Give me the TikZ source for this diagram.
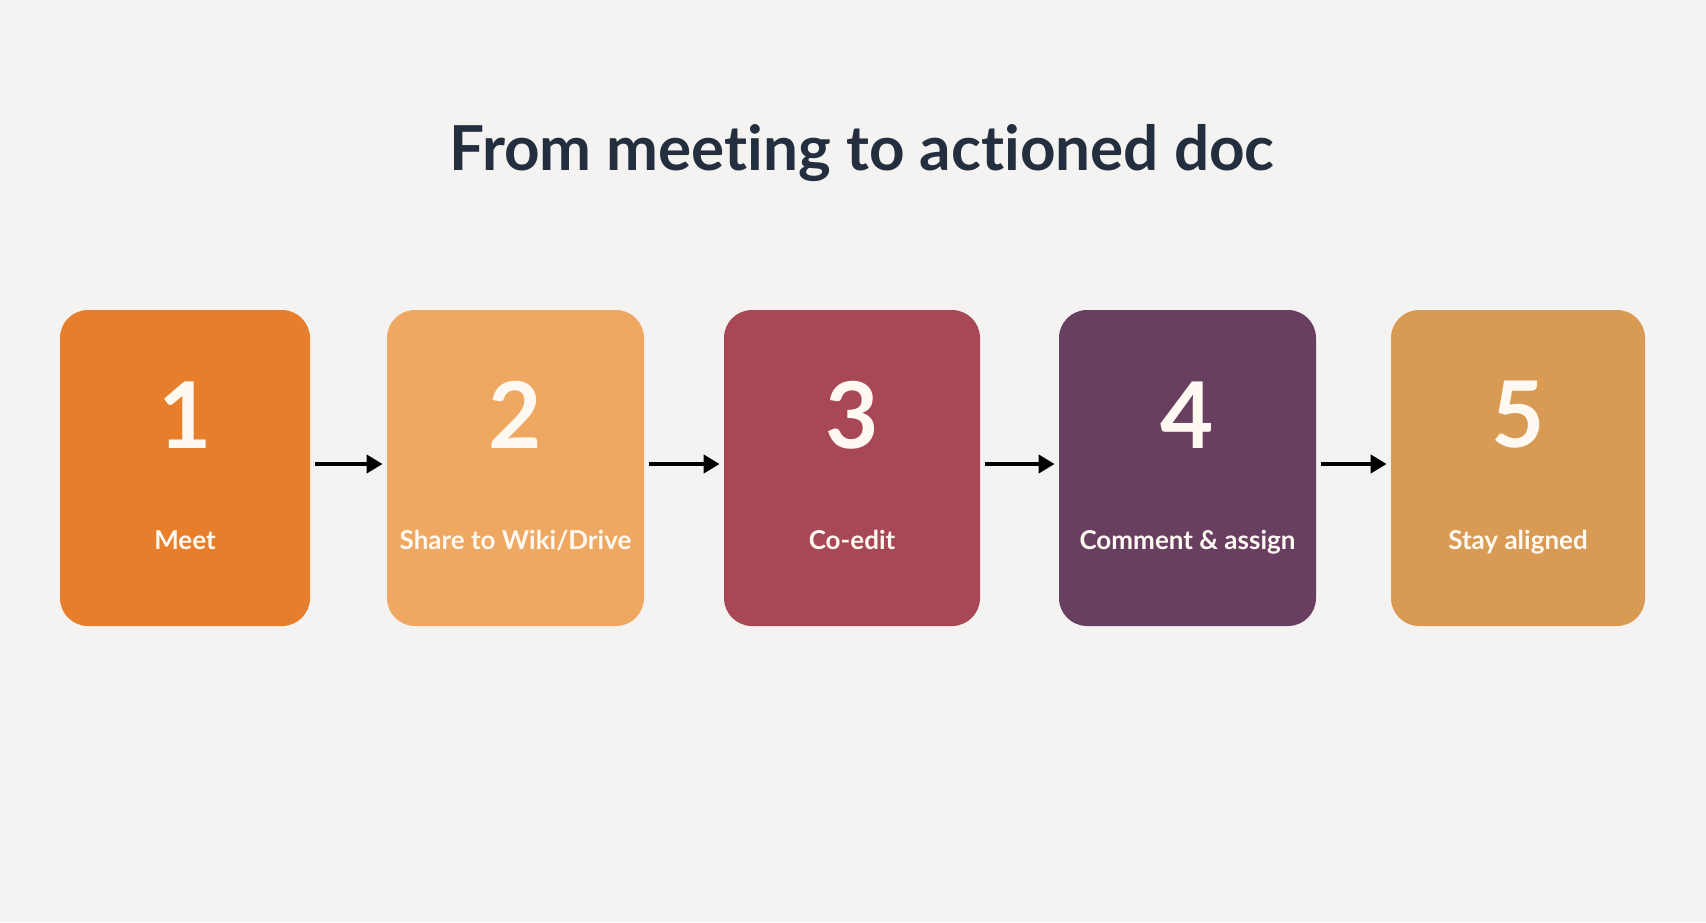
\documentclass[tikz,border=0pt]{standalone}
\usepackage{fontspec}
\setmainfont{Lato}[Ligatures={NoCommon}]
\usetikzlibrary{arrows.meta}
\definecolor{bg}{HTML}{F5F3F1}
\definecolor{ttl}{HTML}{232F3E}
\definecolor{cA}{HTML}{E67E2B}
\definecolor{cB}{HTML}{EFA862}
\definecolor{cC}{HTML}{A84756}
\definecolor{cD}{HTML}{683F61}
\definecolor{cE}{HTML}{D99B53}
\definecolor{txt}{HTML}{FFF9F2}
\tikzset{
  card/.style={rounded corners=14pt, draw=none},
  num/.style={text=txt, font=\bfseries\fontsize{46}{50}\selectfont, inner sep=0pt},
  lbl/.style={text=txt, font=\bfseries\fontsize{13}{16}\selectfont, inner sep=0pt},
  flow/.style={line width=2pt, -{Triangle[length=8pt,width=9pt]}, black}
}
\begin{document}
\begin{tikzpicture}[x=0.5pt,y=-0.5pt]
\fill[bg] (0,0) rectangle (1706,922);
\useasboundingbox (0,0) rectangle (1706,922);
\node[text=ttl, font=\bfseries\fontsize{31}{36}\selectfont, inner sep=0pt, anchor=base] (title) at (862,170) {From meeting to actioned doc};
% cards
\node[card, fill=cA, minimum width=125pt, minimum height=158pt] (b1) at (185,468) {};
\node[card, fill=cB, minimum width=128.5pt, minimum height=158pt] (b2) at (515.5,468) {};
\node[card, fill=cC, minimum width=128pt, minimum height=158pt] (b3) at (852,468) {};
\node[card, fill=cD, minimum width=128.5pt, minimum height=158pt] (b4) at (1187.5,468) {};
\node[card, fill=cE, minimum width=127pt, minimum height=158pt] (b5) at (1518,468) {};
% numbers
\foreach \b/\n in {b1/1,b2/2,b3/3,b4/4,b5/5}{
  \node[num] (\b n) at ([yshift=26.5pt]\b.center) {\n};
}
\node[lbl, anchor=base] (b1l) at ([yshift=-40.5pt]b1.center) {Meet};
\node[lbl, anchor=base] (b2l) at ([yshift=-40.5pt]b2.center) {Share to Wiki/Drive};
\node[lbl, anchor=base] (b3l) at ([yshift=-40.5pt]b3.center) {Co-edit};
\node[lbl, anchor=base] (b4l) at ([yshift=-40.5pt]b4.center) {Comment \& assign};
\node[lbl, anchor=base] (b5l) at ([yshift=-40.5pt]b5.center) {Stay aligned};
% arrows
\foreach \a/\b in {b1/b2,b2/b3,b3/b4,b4/b5}{
  \draw[flow] ([xshift=2.5pt,yshift=2pt]\a.east) -- ([xshift=-2pt,yshift=2pt]\b.west);
}
\end{tikzpicture}
\end{document}
